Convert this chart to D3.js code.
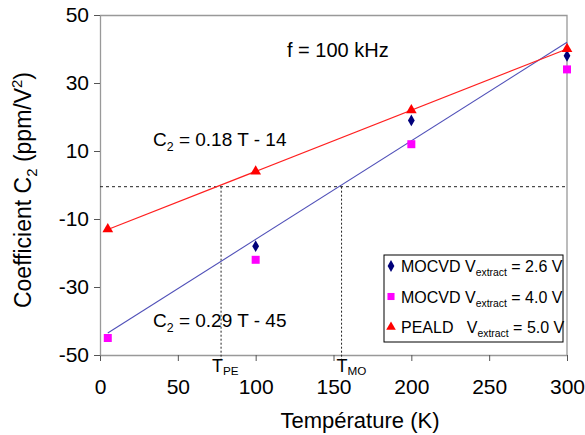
<!DOCTYPE html>
<html>
<head>
<meta charset="utf-8">
<script src="https://cdn.jsdelivr.net/npm/d3@7"></script>
<style>
body { margin: 0; background: #fff; }
svg { font-family: "Liberation Sans", Arial, sans-serif; }
</style>
</head>
<body>
<div id="chart"></div>
<script>
// data
const temps = [5, 100, 200, 300];
const moc26 = [null, -18, 19, 38];
const moc40 = [-45, -22, 12, 34];
const peald = [-13, 4, 22, 40];
const xTicks = [0, 50, 100, 150, 200, 250, 300];
const yTicks = [-50, -30, -10, 10, 30, 50];
// fits: C2 = a T + b
const fitMO = {a: 0.29, b: -45};
const fitPE = {a: 0.18, b: -14};

const W = 585, H = 435;
const margin = {top: 15, right: 18, bottom: 80, left: 100};
const width = W - margin.left - margin.right,
    height = H - margin.top - margin.bottom;

const svg = d3.select("#chart").append("svg")
    .attr("width", W).attr("height", H);
const g = svg.append("g")
    .attr("transform", "translate(" + margin.left + "," + margin.top + ")");

const x = d3.scaleLinear().domain([0, 300]).range([0, width]);
const y = d3.scaleLinear().domain([-50, 50]).range([height, 0]);

// frame (top + right)
g.append("path")
    .attr("d", `M0,0.5H${width}V${height}`)
    .attr("fill", "none").attr("stroke", "#999").attr("stroke-width", 1.3);

// axes
const xAxis = g.append("g")
    .attr("transform", "translate(0," + height + ")")
    .call(d3.axisBottom(x).tickValues(xTicks).tickFormat(d => String(d))
        .tickSize(6).tickSizeOuter(0).tickPadding(18));
const yAxis = g.append("g")
    .call(d3.axisLeft(y).tickValues(yTicks).tickFormat(d => String(d))
        .tickSize(6).tickSizeOuter(0).tickPadding(5));
[xAxis, yAxis].forEach(a => {
    a.select(".domain").attr("stroke", "#999").attr("stroke-width", 1.3);
    a.selectAll(".tick line").attr("stroke", "#555");
    a.selectAll(".tick text").attr("font-size", 21).attr("fill", "#000")
        .attr("font-family", '"Liberation Sans", Arial, sans-serif');
});

// dashed guides
const tPE = -fitPE.b / fitPE.a, tMO = -fitMO.b / fitMO.a;
g.append("line")
    .attr("x1", x(0)).attr("x2", x(300)).attr("y1", y(-0.5)).attr("y2", y(-0.5))
    .attr("stroke", "#222").attr("stroke-dasharray", "3,3");
[tPE, tMO].forEach(t => {
    g.append("line")
        .attr("x1", x(t)).attr("x2", x(t)).attr("y1", y(-0.5)).attr("y2", height + 4)
        .attr("stroke", "#222").attr("stroke-dasharray", "2,2");
});

// fit lines
const line = d3.line().x(d => x(d[0])).y(d => y(d[1]));
g.append("path")
    .attr("d", line([[5, fitMO.a * 5 + fitMO.b], [300, fitMO.a * 300 + fitMO.b]]))
    .attr("stroke", "#5050b8").attr("stroke-width", 1.1).attr("fill", "none");
g.append("path")
    .attr("d", line([[5, fitPE.a * 5 + fitPE.b], [300, fitPE.a * 300 + fitPE.b]]))
    .attr("stroke", "#ff2020").attr("stroke-width", 1.2).attr("fill", "none");

// markers
const sym = (type, size, color, vals) => {
    g.append("g").selectAll("path")
        .data(temps.map((t, i) => [t, vals[i]]).filter(d => d[1] !== null))
        .join("path")
        .attr("transform", d => `translate(${x(d[0])},${y(d[1])})`)
        .attr("d", d3.symbol().type(type).size(size))
        .attr("fill", color);
};
sym(d3.symbolSquare, 64, "#ff00ff", moc40);
sym(d3.symbolDiamond, 40, "#00007a", moc26);
sym(d3.symbolTriangle, 50, "#ff0000", peald);

// text with sub/superscripts
const sub = (sel, parts, size) => {
    parts.forEach(p => {
        sel.append("tspan")
            .attr("font-size", p.sub || p.sup ? size * 0.65 : size)
            .attr("dy", p.sub ? (p.dy || size * 0.25) : (p.sup ? -size * 0.4 : (p.back || 0)))
            .text(p.t);
    });
};
svg.append("text").attr("x", 287).attr("y", 57).attr("font-size", 20).text("f = 100 kHz");

let t1 = svg.append("text").attr("x", 153).attr("y", 146).attr("font-size", 19);
sub(t1, [{t: "C"}, {t: "2", sub: true}, {t: " = 0.18 T - 14", back: -19 * 0.25}], 19);
let t2 = svg.append("text").attr("x", 153).attr("y", 327).attr("font-size", 19);
sub(t2, [{t: "C"}, {t: "2", sub: true}, {t: " = 0.29 T - 45", back: -19 * 0.25}], 19);

let tp = g.append("text").attr("x", x(tPE) - 9).attr("y", 357).attr("font-size", 18);
sub(tp, [{t: "T"}, {t: "PE", sub: true, dy: 3}], 18);
let tm = g.append("text").attr("x", x(tMO) - 5).attr("y", 357).attr("font-size", 18);
sub(tm, [{t: "T"}, {t: "MO", sub: true, dy: 3}], 18);

// axis titles
svg.append("text")
    .attr("x", 360).attr("y", 428)
    .attr("text-anchor", "middle").attr("font-size", 22)
    .text("Température (K)");
let yt = svg.append("text")
    .attr("transform", "translate(31,190) rotate(-90)")
    .attr("text-anchor", "middle").attr("font-size", 23);
sub(yt, [{t: "Coefficient C"}, {t: "2", sub: true}, {t: " (ppm/V", back: -23 * 0.25},
    {t: "2", sup: true}, {t: ")", back: 23 * 0.4}], 23);

// legend
const lg = g.append("g").attr("transform", "translate(284,240)");
lg.append("rect").attr("width", 179).attr("height", 87)
    .attr("fill", "#fff").attr("stroke", "#000").attr("stroke-width", 1);
const legendItems = [
    {type: d3.symbolDiamond, size: 40, color: "#00007a", name: "MOCVD ", v: "2.6"},
    {type: d3.symbolSquare, size: 50, color: "#ff00ff", name: "MOCVD ", v: "4.0"},
    {type: d3.symbolTriangle, size: 40, color: "#ff0000", name: "PEALD   ", v: "5.0"}
];
legendItems.forEach((d, i) => {
    const yy = 11 + i * 30.5;
    lg.append("path").attr("transform", `translate(7,${yy})`)
        .attr("d", d3.symbol().type(d.type).size(d.size)).attr("fill", d.color);
    const t = lg.append("text").attr("x", 17).attr("y", yy + 6).attr("font-size", 16)
        .attr("xml:space", "preserve").style("white-space", "pre");
    sub(t, [{t: d.name + "V"}, {t: "extract", sub: true}, {t: " = " + d.v + " V", back: -4}], 16);
});
</script>
</body>
</html>
